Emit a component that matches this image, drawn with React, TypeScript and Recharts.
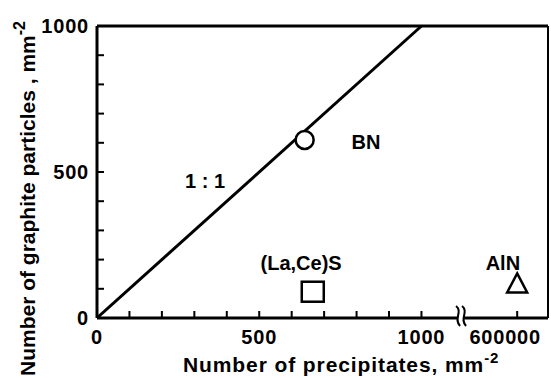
import { ComposedChart, Scatter, XAxis, YAxis, ReferenceLine } from 'recharts';

// x positions past 1000 are on the broken part of the axis; 1295 stands for 600000
const xTicks = [0, 100, 200, 300, 400, 500, 600, 700, 800, 900, 1000, 1295];
const xLabels: Record<number, string> = { 0: '0', 500: '500', 1000: '1000', 1295: '600000' };
const yTicks = [0, 100, 200, 300, 400, 500, 600, 700, 800, 900, 1000];
const yLabels: Record<number, string> = { 0: '0', 500: '500', 1000: '1000' };
const breakAt = 1119;

const oneToOne = [{ x: 0, y: 0 }, { x: 1000, y: 1000 }];
const bnPoint = [{ x: 640, y: 610 }];
const lacesPoint = [{ x: 665, y: 90 }];
const alnPoint = [{ x: 1295, y: 115 }];

const notes = [
    { x: 333, y: 469, text: '1 : 1' },
    { x: 829, y: 603, text: 'BN' },
    { x: 629, y: 188, text: '(La,Ce)S' },
    { x: 1251, y: 188, text: 'AlN' },
];

const font = '"Liberation Sans", Arial, sans-serif';

const XTick = (props: any) => {
    const { x, y, payload } = props;
    const label = xLabels[payload.value];
    const dx = payload.value === 1295 ? -12 : 0;
    return (
        <g>
            <line x1={x} y1={y} x2={x} y2={y - 7} stroke="#000" strokeWidth={2} />
            {label && (
                <text x={x + dx} y={y + 26} textAnchor="middle" fontSize={20} fontWeight="bold" fontFamily={font} letterSpacing={0.8} fill="#000">
                    {label}
                </text>
            )}
        </g>
    );
};

const YTick = (props: any) => {
    const { x, y, payload } = props;
    const label = yLabels[payload.value];
    return (
        <g>
            <line x1={x} y1={y} x2={x + 7} y2={y} stroke="#000" strokeWidth={2} />
            {label && (
                <text x={x - 8} y={y + 7} textAnchor="end" fontSize={20} fontWeight="bold" fontFamily={font} letterSpacing={0.8} fill="#000">
                    {label}
                </text>
            )}
        </g>
    );
};

const AxisBreak = (props: any) => {
    const { cx, cy } = props;
    return (
        <g fill="none" stroke="#000" strokeWidth={2}>
            <rect x={cx - 2} y={cy - 4} width={6} height={8} fill="#fff" stroke="none" />
            <path d={`M${cx - 4},${cy - 12} C${cx + 3},${cy - 6} ${cx - 7},${cy + 1} ${cx},${cy + 8}`} />
            <path d={`M${cx + 2},${cy - 12} C${cx + 9},${cy - 6} ${cx - 1},${cy + 1} ${cx + 6},${cy + 8}`} />
        </g>
    );
};

const Note = (props: any) => {
    const { cx, cy, payload } = props;
    return (
        <text x={cx} y={cy + 7} textAnchor="middle" fontSize={20} fontWeight="bold" fontFamily={font} fill="#000">
            {payload.text}
        </text>
    );
};

export default function App() {
    return (
        <div style={{ position: 'absolute', left: 0, top: 0, background: '#fff' }}>
            <ComposedChart width={551} height={378} margin={{ top: 26, right: 3, left: 0, bottom: 0 }}>
                <XAxis
                    type="number"
                    dataKey="x"
                    domain={[0, 1390]}
                    ticks={xTicks}
                    interval={0}
                    tick={<XTick />}
                    tickLine={false}
                    tickSize={0}
                    tickMargin={0}
                    axisLine={{ stroke: '#000', strokeWidth: 3 }}
                    height={60}
                    allowDataOverflow
                    label={{
                        content: () => (
                            <text x={183} y={372} fontSize={21} fontWeight="bold" fontFamily={font} letterSpacing={0.9} fill="#000">
                                Number of precipitates,  mm
                                <tspan dy={-9} fontSize={15}>-2</tspan>
                            </text>
                        ),
                    }}
                />
                <YAxis
                    type="number"
                    dataKey="y"
                    domain={[0, 1000]}
                    ticks={yTicks}
                    interval={0}
                    tick={<YTick />}
                    tickLine={false}
                    tickSize={0}
                    tickMargin={0}
                    axisLine={{ stroke: '#000', strokeWidth: 3 }}
                    width={97}
                    label={{
                        content: () => (
                            <text
                                x={0}
                                y={0}
                                transform="translate(35,376) rotate(-90)"
                                fontSize={21}
                                fontWeight="bold"
                                fontFamily={font}
                                fill="#000"
                            >
                                Number of graphite particles , mm
                                <tspan dy={-10} fontSize={16}>-2</tspan>
                            </text>
                        ),
                    }}
                />
                <ReferenceLine y={1000} stroke="#000" strokeWidth={3} />
                <ReferenceLine x={1390} stroke="#000" strokeWidth={2} />
                <Scatter
                    data={oneToOne}
                    line={{ stroke: '#000', strokeWidth: 3 }}
                    shape={() => <g />}
                    isAnimationActive={false}
                />
                <Scatter
                    data={bnPoint}
                    shape={(p: any) => <circle cx={p.cx} cy={p.cy} r={9} fill="#fff" stroke="#000" strokeWidth={2.5} />}
                    isAnimationActive={false}
                />
                <Scatter
                    data={lacesPoint}
                    shape={(p: any) => (
                        <rect x={p.cx - 11} y={p.cy - 10} width={22} height={20} fill="#fff" stroke="#000" strokeWidth={2.5} />
                    )}
                    isAnimationActive={false}
                />
                <Scatter
                    data={alnPoint}
                    shape={(p: any) => (
                        <path
                            d={`M${p.cx},${p.cy - 11} L${p.cx + 10},${p.cy + 8} L${p.cx - 10},${p.cy + 8} Z`}
                            fill="#fff"
                            stroke="#000"
                            strokeWidth={2.5}
                        />
                    )}
                    isAnimationActive={false}
                />
                <Scatter data={[{ x: breakAt, y: 0 }]} shape={<AxisBreak />} isAnimationActive={false} />
                <Scatter data={notes} shape={<Note />} isAnimationActive={false} />
            </ComposedChart>
        </div>
    );
}
